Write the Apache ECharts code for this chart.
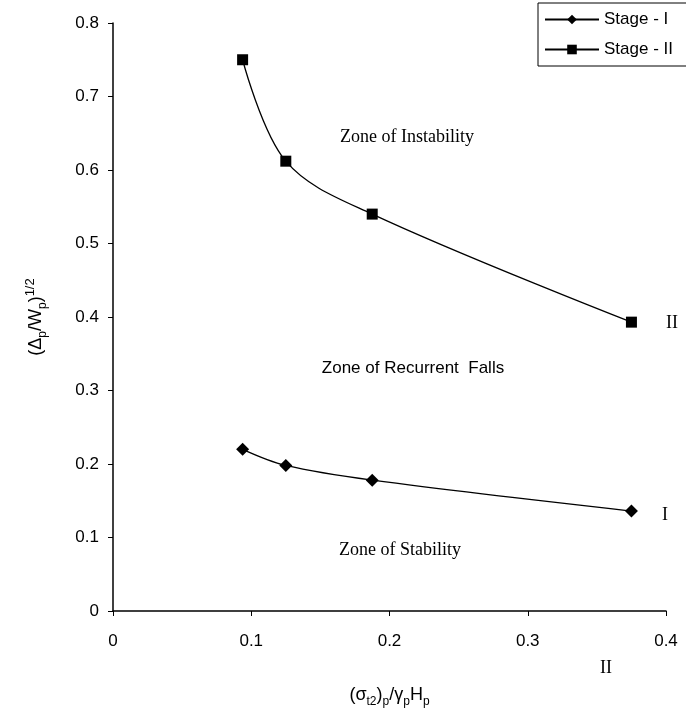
<!DOCTYPE html>
<html><head><meta charset="utf-8">
<script src="https://cdn.jsdelivr.net/npm/echarts@6/dist/echarts.min.js"></script>
<style>html,body{margin:0;padding:0;background:#fff}#c{width:686px;height:717px}</style>
</head><body><div id="c"></div>
<script>
const xTicks = [0, 0.1, 0.2, 0.3, 0.4];
const yTicks = [0, 0.1, 0.2, 0.3, 0.4, 0.5, 0.6, 0.7, 0.8];
const seriesNames = ['Stage - I', 'Stage - II'];
const stage1X = [0.09375, 0.125, 0.1875, 0.375];
const stage1Y = [0.22, 0.198, 0.178, 0.136];
const stage2X = [0.09375, 0.125, 0.1875, 0.375];
const stage2Y = [0.75, 0.612, 0.54, 0.393];
const zoneLabels = ['Zone of Instability', 'Zone of Recurrent  Falls', 'Zone of Stability'];
const curveLabels = ['II', 'I', 'II'];

const chart = echarts.init(document.getElementById('c'));
const sans = 'Liberation Sans';
chart.setOption({
  animation: false,
  backgroundColor: '#fff',
  grid: {left: 113, right: 20, top: 23, bottom: 106, containLabel: false},
  legend: {
    data: seriesNames,
    orient: 'vertical',
    left: 538, top: 3,
    itemWidth: 54, itemHeight: 12, itemGap: 13,
    padding: [8, 60, 8, 6],
    borderColor: '#000', borderWidth: 1, backgroundColor: '#fff',
    textStyle: {fontFamily: sans, fontSize: 17, color: '#000'}
  },
  xAxis: {
    type: 'value', min: 0, max: 0.4, interval: 0.1,
    axisLine: {lineStyle: {color: '#000', width: 1.5}},
    axisTick: {show: true, inside: false, length: 5, lineStyle: {color: '#000'}},
    splitLine: {show: false},
    axisLabel: {color: '#000', fontFamily: sans, fontSize: 17, margin: 22,
      formatter: v => String(xTicks.find(t => Math.abs(t - v) < 1e-9) ?? v)},
    name: '{a|(σ}{s|t2}{a|)}{s|p}{a|/γ}{s|p}{a|H}{s|p}',
    nameLocation: 'middle', nameGap: 75,
    nameTextStyle: {rich: {
      a: {fontFamily: sans, fontSize: 18, color: '#000', verticalAlign: 'bottom'},
      s: {fontFamily: sans, fontSize: 12, color: '#000', verticalAlign: 'bottom', padding: [0,0,-4,0]}
    }}
  },
  yAxis: {
    type: 'value', min: 0, max: 0.8, interval: 0.1,
    axisLine: {show: true, lineStyle: {color: '#000', width: 1.5}},
    axisTick: {show: true, inside: false, length: 5, lineStyle: {color: '#000'}},
    splitLine: {show: false},
    axisLabel: {color: '#000', fontFamily: sans, fontSize: 17, margin: 14,
      formatter: v => String(yTicks.find(t => Math.abs(t - v) < 1e-9) ?? v)},
    name: '{a|(Δ}{s|p}{a|/W}{s|p}{a|)}{u|1/2}',
    nameLocation: 'middle', nameGap: 68, nameRotate: 90,
    nameTextStyle: {rich: {
      a: {fontFamily: sans, fontSize: 18, color: '#000', verticalAlign: 'bottom'},
      s: {fontFamily: sans, fontSize: 12, color: '#000', verticalAlign: 'bottom', padding: [0,0,-4,0]},
      u: {fontFamily: sans, fontSize: 13, color: '#000', verticalAlign: 'top', padding: [0,0,8,0]}
    }}
  },
  series: [
    {name: seriesNames[0], type: 'line', smooth: 0.35, symbol: 'diamond', symbolSize: 13,
     data: stage1X.map((x, i) => [x, stage1Y[i]]),
     lineStyle: {color: '#000', width: 1.3}, itemStyle: {color: '#000'}},
    {name: seriesNames[1], type: 'line', smooth: 0.35, symbol: 'rect', symbolSize: 11,
     data: stage2X.map((x, i) => [x, stage2Y[i]]),
     lineStyle: {color: '#000', width: 1.3}, itemStyle: {color: '#000'}}
  ],
  graphic: [
    {type: 'text', x: 407, y: 137, style: {text: zoneLabels[0], font: '18px "Liberation Serif"', fill: '#000', align: 'center', verticalAlign: 'middle'}},
    {type: 'text', x: 413, y: 368, style: {text: zoneLabels[1], font: '17px "Liberation Sans"', fill: '#000', align: 'center', verticalAlign: 'middle'}},
    {type: 'text', x: 400, y: 550, style: {text: zoneLabels[2], font: '18px "Liberation Serif"', fill: '#000', align: 'center', verticalAlign: 'middle'}},
    {type: 'text', x: 672, y: 323, style: {text: curveLabels[0], font: '18px "Liberation Serif"', fill: '#000', align: 'center', verticalAlign: 'middle'}},
    {type: 'text', x: 665, y: 515, style: {text: curveLabels[1], font: '18px "Liberation Serif"', fill: '#000', align: 'center', verticalAlign: 'middle'}},
    {type: 'text', x: 606, y: 668, style: {text: curveLabels[2], font: '18px "Liberation Serif"', fill: '#000', align: 'center', verticalAlign: 'middle'}}
  ]
});
</script></body></html>
